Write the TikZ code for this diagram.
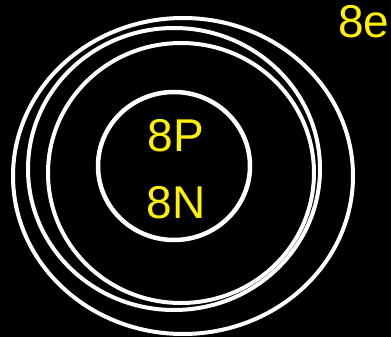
\documentclass[tikz,border=0pt]{standalone}
\usepackage{fontspec}
\setmainfont{Liberation Sans}
\begin{document}
\begin{tikzpicture}[x=1pt,y=-1pt,
  orbit/.style={draw=white,line width=4pt},
  lbl/.style={text=yellow,font=\fontsize{46}{50}\selectfont,inner sep=0pt}]
\fill[black] (0,0) rectangle (391,337);
\useasboundingbox (0,0) rectangle (391,337);
\draw[orbit] (183,176) ellipse [x radius=170, y radius=158];
\draw[orbit] (174,169) ellipse [x radius=146, y radius=141];
\draw[orbit] (181,173) ellipse [x radius=133, y radius=130];
\draw[orbit,line width=4.5pt] (174,166) ellipse [x radius=76, y radius=74];
\node[lbl,anchor=base] (p) at (176,151) {8P};
\node[lbl,anchor=base] (n) at (176,218) {8N};
\node[lbl,anchor=base west] (e) at (338,38) {8e};
\end{tikzpicture}
\end{document}
